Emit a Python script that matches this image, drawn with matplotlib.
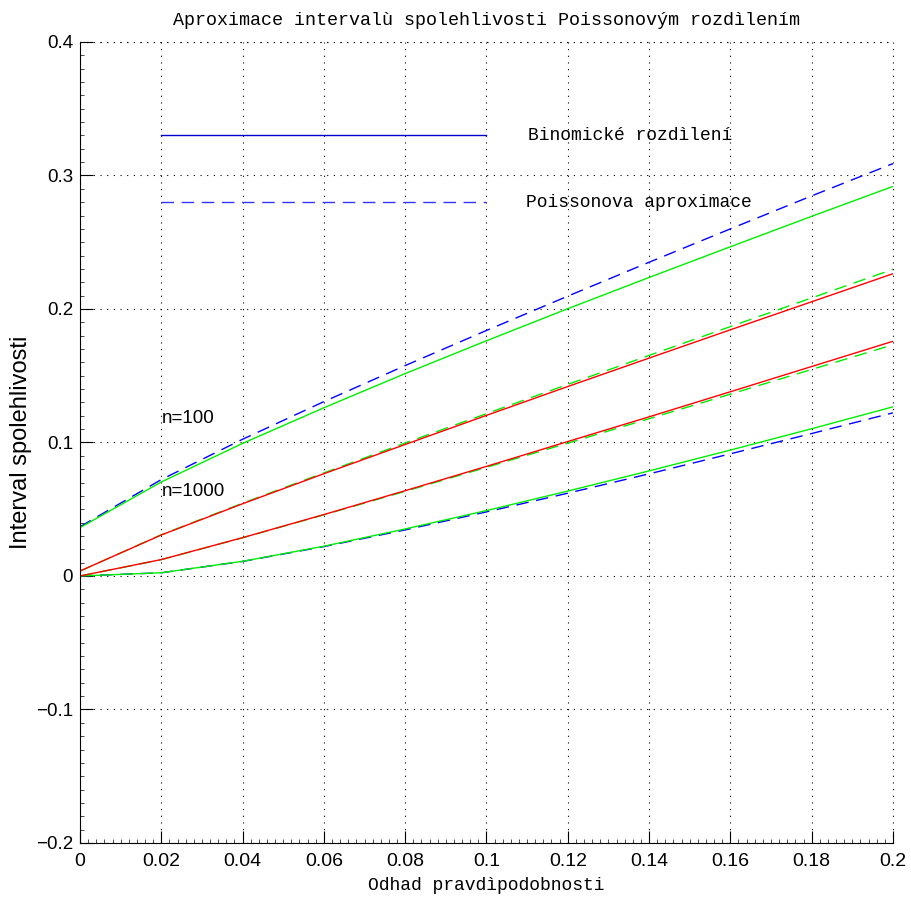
#imports
import matplotlib
matplotlib.use("Agg")
import matplotlib.pyplot as plt
from matplotlib.ticker import MultipleLocator

#point estimates of the probability (grid 0:0.02:0.2)
p_hat = [0, 0.02, 0.04, 0.06, 0.08, 0.10, 0.12, 0.14, 0.16, 0.18, 0.20]

#n=100 - binomial (Clopper-Pearson) bounds
binom100_lo = [0, 0.0024, 0.0110, 0.0223, 0.0352, 0.0490, 0.0636, 0.0787, 0.0943, 0.1103, 0.1267]
binom100_hi = [0.0362, 0.0704, 0.0993, 0.1260, 0.1516, 0.1762, 0.2002, 0.2236, 0.2466, 0.2694, 0.2918]
#n=100 - Poisson approximation bounds
pois100_lo = [0, 0.0024, 0.0109, 0.0220, 0.0345, 0.0480, 0.0620, 0.0765, 0.0915, 0.1067, 0.1222]
pois100_hi = [0.0369, 0.0722, 0.1024, 0.1306, 0.1576, 0.1839, 0.2096, 0.2350, 0.2600, 0.2847, 0.3089]

#n=1000 - binomial bounds
binom1000_lo = [0, 0.0123, 0.0287, 0.0460, 0.0639, 0.0821, 0.1007, 0.1192, 0.1380, 0.1569, 0.1758]
binom1000_hi = [0.0037, 0.0307, 0.0541, 0.0766, 0.0985, 0.1203, 0.1419, 0.1632, 0.1844, 0.2054, 0.2264]
#n=1000 - Poisson approximation bounds
pois1000_lo = [0, 0.0122, 0.0286, 0.0458, 0.0634, 0.0814, 0.0995, 0.1178, 0.1362, 0.1547, 0.1732]
pois1000_hi = [0.0037, 0.0309, 0.0545, 0.0772, 0.0996, 0.1216, 0.1435, 0.1652, 0.1868, 0.2083, 0.2297]

#texts
title = "Aproximace intervalù spolehlivosti Poissonovým rozdìlením"
xlabel = "Odhad pravdìpodobnosti"
ylabel = "Interval spolehlivosti"
legend_labels = ["Binomické rozdìlení", "Poissonova aproximace"]
xtick_labels = ["0", "0.02", "0.04", "0.06", "0.08", "0.1", "0.12", "0.14", "0.16", "0.18", "0.2"]
ytick_labels = ["\u22120.2", "\u22120.1", "0", "0.1", "0.2", "0.3", "0.4"]
mono = "Liberation Mono"
sans = "Liberation Sans"

fig = plt.figure(figsize=(9.12, 9.01), dpi=100)
ax = fig.add_axes([0.0877, 0.0644, 0.8914, 0.889])

dash = (9, 5.5)
#n=100 curves
ax.plot(p_hat, pois100_hi, "--", color="#0000ff", lw=1, dashes=dash)
ax.plot(p_hat, pois100_lo, "--", color="#0000ff", lw=1, dashes=dash)
ax.plot(p_hat, binom100_hi, "-", color="#00ee00", lw=1)
ax.plot(p_hat, binom100_lo, "-", color="#00ee00", lw=1)

#n=1000 curves
ax.plot(p_hat, pois1000_hi, "--", color="#00ee00", lw=1, dashes=dash)
ax.plot(p_hat, pois1000_lo, "--", color="#00ee00", lw=1, dashes=dash)
ax.plot(p_hat, binom1000_hi, "-", color="#ff0000", lw=1)
ax.plot(p_hat, binom1000_lo, "-", color="#ff0000", lw=1)

#hand drawn legend
ax.plot([0.02, 0.1], [0.33, 0.33], "-", color="#0000cc", lw=1)
ax.plot([0.02, 0.1], [0.28, 0.28], "--", color="#3333ff", lw=1, dashes=dash)
ax.text(0.1102, 0.33, legend_labels[0], family=mono, fontsize=13, va="center")
ax.text(0.1097, 0.28, legend_labels[1], family=mono, fontsize=13, va="center")

ax.text(0.0202, 0.118, "n=100", family=sans, fontsize=13.5, va="center")
ax.text(0.0202, 0.063, "n=1000", family=sans, fontsize=13.5, va="center")

ax.set_xlim(0, 0.2)
ax.set_ylim(-0.2, 0.4)
ax.set_xticks([0, 0.02, 0.04, 0.06, 0.08, 0.1, 0.12, 0.14, 0.16, 0.18, 0.2])
ax.set_xticklabels(xtick_labels, family=sans, fontsize=14)
ax.set_yticks([-0.2, -0.1, 0, 0.1, 0.2, 0.3, 0.4])
ax.set_yticklabels(ytick_labels, family=sans, fontsize=13.5)
ax.xaxis.set_minor_locator(MultipleLocator(0.002))
ax.yaxis.set_minor_locator(MultipleLocator(0.01))
ax.tick_params(which="major", direction="in", length=9, width=0.8)
ax.tick_params(axis="x", which="major", pad=7)
ax.tick_params(axis="y", which="major", pad=5)
ax.tick_params(which="minor", direction="in", length=3, width=0.5)
ax.tick_params(top=False, right=False, which="both")

ax.spines["top"].set_visible(False)
ax.spines["right"].set_visible(False)
ax.grid(True, which="major", linestyle=(0, (1, 5)), color="black", lw=0.8)
#grid lines on the upper and right limits
ax.axhline(0.4, linestyle=(0, (1, 5)), color="black", lw=0.8, clip_on=False)
ax.axvline(0.2, linestyle=(0, (1, 5)), color="black", lw=0.8, clip_on=False)

ax.set_title(title, family=mono, fontsize=13.2, pad=12)
ax.set_xlabel(xlabel, family=mono, fontsize=13, labelpad=5)
ax.set_ylabel(ylabel, family=sans, fontsize=17, labelpad=3)

plt.savefig("out.png", dpi=100)
